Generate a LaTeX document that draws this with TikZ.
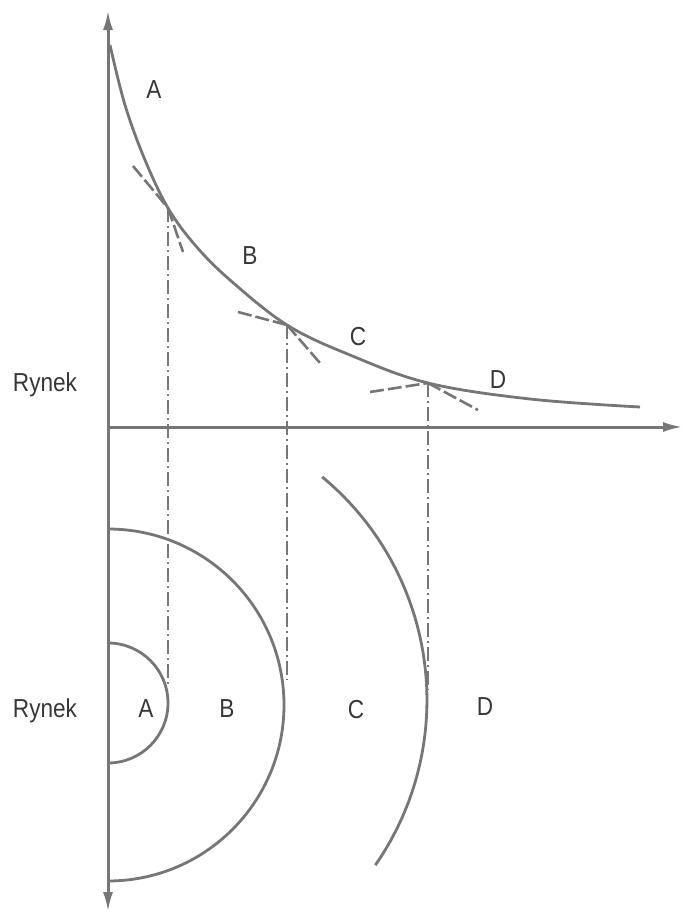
\documentclass[tikz,border=0pt]{standalone}
\usepackage{fontspec}
\setmainfont{Liberation Sans}[FakeStretch=0.87]
\usetikzlibrary{arrows.meta}
\definecolor{ln}{RGB}{118,118,118}
\definecolor{tx}{RGB}{55,55,55}
\begin{document}
\begin{tikzpicture}[x=1pt,y=-1pt,
  axis/.style={draw=ln,line width=3pt},
  curve/.style={draw=ln,line width=2.8pt},
  tang/.style={draw=ln,line width=2.6pt,dash pattern=on 14pt off 4pt},
  drop/.style={draw=ln,line width=2.6pt,dash pattern=on 14pt off 4pt on 2pt off 4pt},
  lbl/.style={anchor=base,inner sep=0pt,text=tx,font=\fontsize{26}{30}\selectfont},
  tip/.tip={Latex[length=20pt,width=10pt]}]
\useasboundingbox (0,0) rectangle (683,916);
% axes
\coordinate (top) at (108,10);
\coordinate (bot) at (108,912);
\coordinate (orig) at (108,427);
\coordinate (right) at (683,427);
\draw[axis,tip-tip] (bot) -- (top);
\draw[axis,-tip] (orig) -- (right);
% demand curve
\draw[curve] plot[smooth,tension=0.6] coordinates {(110,45) (125,105) (145,160) (168,208) (195,245) (230,280) (287,325) (350,355) (428,383) (530,399) (640,407)};
% kink points
\coordinate (pA) at (168,208);
\coordinate (pB) at (287,325);
\coordinate (pD) at (428,383);
\coordinate (aL) at (133,166);
\coordinate (aR) at (183,252);
\coordinate (bL) at (238,312);
\coordinate (bR) at (320,363);
\coordinate (dL) at (370,392);
\coordinate (dR) at (478,410);
\draw[tang] (aL) -- (pA);
\draw[tang] (pA) -- (aR);
\draw[tang] (bL) -- (pB);
\draw[tang] (pB) -- (bR);
\draw[tang] (dL) -- (pD);
\draw[tang] (pD) -- (dR);
% drop lines
\coordinate (eA) at (168,688);
\coordinate (eB) at (287,680);
\coordinate (eD) at (428,690);
\draw[drop] (pA) -- (eA);
\draw[drop] (pB) -- (eB);
\draw[drop] (pD) -- (eD);
% market arcs
\draw[curve] (108,643) arc[start angle=-90,end angle=90,radius=60];
\draw[curve] (108,529) arc[start angle=-90,end angle=90,radius=176];
\draw[curve] (322.2,476.9) arc[start angle=-50.3,end angle=34.7,radius=290];
% labels
\node[lbl] (lA) at (154,98.5) {A};
\node[lbl] (lB) at (250,264.5) {B};
\node[lbl] (lC) at (358,345.5) {C};
\node[lbl] (lD) at (498,388.5) {D};
\node[lbl] (r1) at (45,391) {Rynek};
\node[lbl] (r2) at (45,717) {Rynek};
\node[lbl] (mA) at (146,717.5) {A};
\node[lbl] (mB) at (227,717.5) {B};
\node[lbl] (mC) at (356,718) {C};
\node[lbl] (mD) at (485,715.5) {D};
\end{tikzpicture}
\end{document}
